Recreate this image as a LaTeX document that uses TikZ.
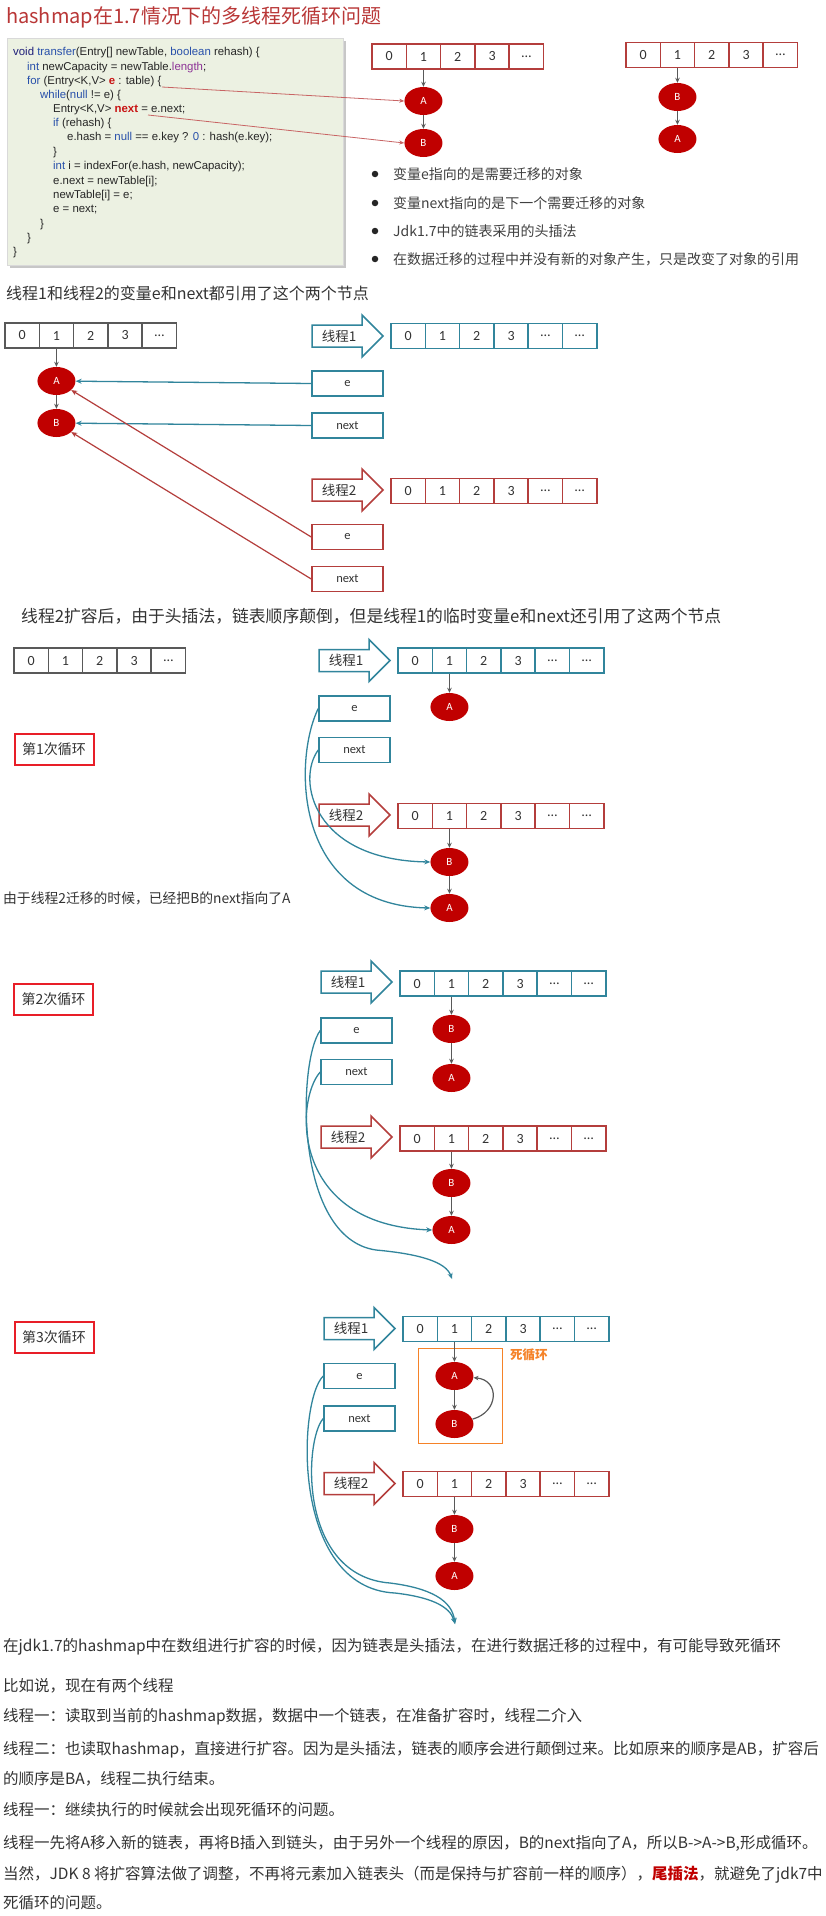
\documentclass[tikz,border=0pt]{standalone}
\usepackage{fontspec}
\setmainfont{Noto Sans CJK SC}
\newfontfamily\carl{Carlito}
\newfontfamily\ari{Liberation Sans}
\usetikzlibrary{shapes.geometric,arrows.meta}
\definecolor{teal1}{RGB}{49,133,156}
\definecolor{tred}{RGB}{180,62,60}
\definecolor{garr}{RGB}{89,89,89}
\definecolor{nred}{RGB}{192,0,0}
\definecolor{boxred}{RGB}{232,30,40}
\definecolor{orng}{RGB}{245,130,40}
\definecolor{codebg}{RGB}{236,241,226}
\definecolor{titred}{RGB}{185,55,55}
\definecolor{txt}{RGB}{64,64,64}
\definecolor{lred}{RGB}{200,100,100}
\definecolor{kwb}{RGB}{40,80,170}
\definecolor{kwv}{RGB}{30,30,120}
\definecolor{kwp}{RGB}{140,50,150}
\definecolor{kwr}{RGB}{200,20,20}
\newcommand\kb[1]{\textcolor{kwb}{#1}}
\newcommand\kv[1]{\textcolor{kwv}{#1}}
\newcommand\kp[1]{\textcolor{kwp}{#1}}
\newcommand\kr[1]{\textcolor{kwr}{\bfseries #1}}
\newcommand\cellrow[5]{%
  \foreach \t [count=\i from 0] in {#5}{%
    \node[#4] (#1\i) at ({#2+17.15+34.3*\i},#3) {\t};
  }%
}
\newcommand\thr[5]{%
  \draw[draw=#4, line width=1.5pt, fill=white, line join=miter]
    (#2,#3-11) -- (#2+50,#3-11) -- (#2+50,#3-21) -- (#2+71,#3) --
    (#2+50,#3+21) -- (#2+50,#3+11) -- (#2,#3+11) -- cycle;
  \node[thlbl] (#1) at (#2+27,#3) {#5};
}
\begin{document}
\begin{tikzpicture}[x=1pt,y=-1pt,
  cellbase/.style={line width=1.5pt, minimum width=34.3pt, minimum height=25pt, inner sep=0pt,
     font=\carl\fontsize{14}{14}\selectfont, text=black!80},
  cellg/.style={cellbase, draw=garr},
  cellr/.style={cellbase, draw=tred},
  cellt/.style={cellbase, draw=teal1},
  ent/.style={ellipse, fill=nred, minimum width=38pt, minimum height=28pt, inner sep=0pt,
     text=white, font=\carl\fontsize{11}{11}\selectfont},
  vbox/.style={draw, line width=1.5pt, minimum width=71pt, minimum height=25pt, inner sep=0pt,
     fill=white, font=\carl\fontsize{12.5}{12.5}\selectfont, text=black!80},
  vboxt/.style={vbox, draw=teal1},
  vboxr/.style={vbox, draw=tred},
  thlbl/.style={inner sep=0pt, font=\fontsize{13.5}{13.5}\selectfont, text=black!80},
  loopbox/.style={draw=boxred, line width=2pt, minimum width=79pt, minimum height=31pt, inner sep=0pt,
     font=\fontsize{14}{14}\selectfont, text=black!80},
  garrow/.style={draw=garr, line width=1.2pt, -{Stealth[length=5pt,width=4.5pt]}},
  tline/.style={draw=teal1, line width=1.3pt, -{Stealth[length=6pt,width=5pt]}},
  rline/.style={draw=tred, line width=1.2pt, -{Stealth[length=6pt,width=5pt]}},
  cline/.style={draw=lred, line width=0.8pt, -{Stealth[length=5pt,width=4pt]}},
  code/.style={anchor=west, inner sep=0pt, font=\ari\fontsize{11.4}{12}\selectfont, text=black!85},
  bul/.style={anchor=west, inner sep=0pt, font=\fontsize{14}{14}\selectfont, text=txt},
  dot/.style={circle, fill=black!85, inner sep=0pt, minimum size=6.5pt},
  para/.style={anchor=west, inner sep=0pt, font=\fontsize{15.5}{16}\selectfont, text=black!80},
  head/.style={anchor=west, inner sep=0pt, text=black!80}
]
\useasboundingbox (0,0) rectangle (826,1916);
\fill[white] (0,0) rectangle (826,1916);

% ---------- Title ----------
\node[anchor=west, inner sep=0pt, font=\fontsize{20}{22}\selectfont, text=titred] (title) at (6,17)
  {hashmap在1.7情况下的多线程死循环问题};

% ---------- Code box ----------
\fill[black!22] (10,41) rectangle (346,268);
\fill[codebg, draw=black!15] (7,38) rectangle (343,265);
\node[code] (c1) at (13,53) {\kv{void} \kb{transfer}(Entry[] newTable, \kb{boolean} rehash) \{};
\node[code] (c2) at (27,68) {\kb{int} newCapacity = newTable.\kp{length};};
\node[code] (c3) at (27,82) {\kb{for} (Entry<K,V> \kr{e} : table) \{};
\node[code] (c4) at (40,96) {\kb{while}(\kb{null} != e) \{};
\node[code] (c5) at (53,110) {Entry<K,V> \kr{next} = e.next;};
\node[code] (c6) at (53,124) {\kb{if} (rehash) \{};
\node[code] (c7) at (67,138) {e.hash = \kb{null} == e.key ? \kb{0} : hash(e.key);};
\node[code] (c8) at (53,153) {\}};
\node[code] (c9) at (53,167) {\kb{int} i = indexFor(e.hash, newCapacity);};
\node[code] (c10) at (53,182) {e.next = newTable[i];};
\node[code] (c11) at (53,196) {newTable[i] = e;};
\node[code] (c12) at (53,210) {e = next;};
\node[code] (c13) at (40,225) {\}};
\node[code] (c14) at (27,239) {\}};
\node[code] (c15) at (13,253) {\}};

% ---------- Section 1 arrays ----------
\cellrow{aa}{372}{56.5}{cellr}{0,1,2,3,…}
\node[ent] (s1A) at (423.45,101) {A};
\node[ent] (s1B) at (423.45,143) {B};
\draw[garrow] (aa1.south) -- (s1A.north);
\draw[garrow] (s1A.south) -- (s1B.north);
\cellrow{ab}{626}{55}{cellr}{0,1,2,3,…}
\node[ent] (s1B2) at (677.45,97) {B};
\node[ent] (s1A2) at (677.45,139) {A};
\draw[garrow] (ab1.south) -- (s1B2.north);
\draw[garrow] (s1B2.south) -- (s1A2.north);
\coordinate (ce) at (162,87);
\coordinate (cn) at (148,115);
\draw[cline] (ce) -- (s1A.west);
\draw[cline] (cn) -- (s1B.west);

% bullets
\node[dot] (d1) at (375,174) {};
\node[bul] (b1) at (393,174) {变量e指向的是需要迁移的对象};
\node[dot] (d2) at (375,203) {};
\node[bul] (b2) at (393,203) {变量next指向的是下一个需要迁移的对象};
\node[dot] (d3) at (375,231) {};
\node[bul] (b3) at (393,231) {Jdk1.7中的链表采用的头插法};
\node[dot] (d4) at (375,259) {};
\node[bul] (b4) at (393,259) {在数据迁移的过程中并没有新的对象产生，只是改变了对象的引用};

% ---------- Section 2 ----------
\node[head, font=\fontsize{16}{16}\selectfont] (h2) at (6,293) {线程1和线程2的变量e和next都引用了这个两个节点};
\cellrow{ba}{5}{335.5}{cellg}{0,1,2,3,…}
\node[ent] (s2A) at (56.45,381) {A};
\node[ent] (s2B) at (56.45,423) {B};
\draw[garrow] (ba1.south) -- (s2A.north);
\draw[garrow] (s2A.south) -- (s2B.north);
\thr{s2t1}{312}{336}{teal1}{线程1}
\cellrow{bb}{391}{336}{cellt}{0,1,2,3,…,…}
\node[vboxt] (s2e1) at (347.5,383.5) {e};
\node[vboxt] (s2n1) at (347.5,425.5) {next};
\thr{s2t2}{312}{490}{tred}{线程2}
\cellrow{bc}{391}{491}{cellr}{0,1,2,3,…,…}
\node[vboxr] (s2e2) at (347.5,537) {e};
\node[vboxr] (s2n2) at (347.5,579) {next};
\draw[tline] (s2e1.west) -- (s2A);
\draw[tline] (s2n1.west) -- (s2B);
\draw[rline] (s2e2.west) -- (s2A);
\draw[rline] (s2n2.west) -- (s2B);

% ---------- Section 3 ----------
\node[head, font=\fontsize{16.8}{17}\selectfont] (h3) at (21,616) {线程2扩容后，由于头插法，链表顺序颠倒，但是线程1的临时变量e和next还引用了这两个节点};
\cellrow{ca}{14}{660.5}{cellg}{0,1,2,3,…}
\thr{s3t1}{319}{660.5}{teal1}{线程1}
\cellrow{cb}{398}{660.5}{cellt}{0,1,2,3,…,…}
\node[ent] (s3A1) at (449.45,707) {A};
\draw[garrow] (cb1.south) -- (s3A1.north);
\node[vboxt] (s3e) at (354.5,708.5) {e};
\node[vboxt] (s3n) at (354.5,750) {next};
\node[loopbox] (L1) at (54,749) {第1次循环};
\thr{s3t2}{319}{815}{tred}{线程2}
\cellrow{cc}{398}{816}{cellr}{0,1,2,3,…,…}
\node[ent] (s3B2) at (449.45,862) {B};
\node[ent] (s3A2) at (449.45,908) {A};
\draw[garrow] (cc1.south) -- (s3B2.north);
\draw[garrow] (s3B2.south) -- (s3A2.north);
\node[anchor=west, inner sep=0pt, font=\fontsize{13.8}{14}\selectfont, text=black!80] (t3) at (3,898) {由于线程2迁移的时候，已经把B的next指向了A};
\draw[tline] (s3e.west) .. controls (293,760) and (293,905) .. (s3A2.west);
\draw[tline] (s3n.west) .. controls (296,780) and (313,860) .. (s3B2.west);

% ---------- Section 4 ----------
\node[loopbox] (L2) at (53.5,999.5) {第2次循环};
\thr{s4t1}{321}{982}{teal1}{线程1}
\cellrow{da}{400}{983.5}{cellt}{0,1,2,3,…,…}
\node[ent] (s4B1) at (451.45,1029) {B};
\node[ent] (s4A1) at (451.45,1078) {A};
\draw[garrow] (da1.south) -- (s4B1.north);
\draw[garrow] (s4B1.south) -- (s4A1.north);
\node[vboxt] (s4e) at (356.5,1030.5) {e};
\node[vboxt] (s4n) at (356.5,1072) {next};
\thr{s4t2}{321}{1137}{tred}{线程2}
\cellrow{db}{400}{1138.5}{cellr}{0,1,2,3,…,…}
\node[ent] (s4B2) at (451.45,1183) {B};
\node[ent] (s4A2) at (451.45,1230) {A};
\draw[garrow] (db1.south) -- (s4B2.north);
\draw[garrow] (s4B2.south) -- (s4A2.north);
\coordinate (s4end) at (452,1279);
\draw[tline] (s4n.west) .. controls (295,1100) and (290,1225) .. (s4A2.west);
\draw[tline] (s4e.west) .. controls (298,1060) and (293,1238) .. (376,1250)
   .. controls (420,1254) and (446,1262) .. (s4end);

% ---------- Section 5 ----------
\node[loopbox] (L3) at (54,1337.5) {第3次循环};
\thr{s5t1}{324}{1328.5}{teal1}{线程1}
\cellrow{ea}{403}{1329}{cellt}{0,1,2,3,…,…}
\draw[orng, line width=1pt] (418,1348) rectangle (502,1443);
\node[anchor=west, inner sep=0pt, font=\bfseries\fontsize{12.5}{13}\selectfont, text=orng] (dl) at (510,1355) {死循环};
\node[ent] (s5A1) at (454.45,1376) {A};
\node[ent] (s5B1) at (454.45,1424) {B};
\draw[garrow] (ea1.south) -- (s5A1.north);
\draw[garrow] (s5A1.south) -- (s5B1.north);
\draw[garrow] (s5B1) .. controls (499,1412) and (500,1380) .. (s5A1);
\node[vboxt] (s5e) at (359.5,1376) {e};
\node[vboxt] (s5n) at (359.5,1418.5) {next};
\thr{s5t2}{324}{1483.5}{tred}{线程2}
\cellrow{eb}{403}{1484}{cellr}{0,1,2,3,…,…}
\node[ent] (s5B2) at (454.45,1529) {B};
\node[ent] (s5A2) at (454.45,1576) {A};
\draw[garrow] (eb1.south) -- (s5B2.north);
\draw[garrow] (s5B2.south) -- (s5A2.north);
\coordinate (s5end) at (455,1624);
\draw[tline] (s5e.west) .. controls (298,1400) and (290,1588) .. (395,1593)
   .. controls (430,1597) and (450,1606) .. (s5end);
\draw[tline] (s5n.west) .. controls (304,1440) and (298,1576) .. (390,1583)
   .. controls (430,1588) and (452,1600) .. (s5end);

% ---------- Bottom text ----------
\node[para] (p1) at (3,1647) {在jdk1.7的hashmap中在数组进行扩容的时候，因为链表是头插法，在进行数据迁移的过程中，有可能导致死循环};
\node[para] (p2) at (3,1686) {比如说，现在有两个线程};
\node[para] (p3) at (3,1717) {线程一：读取到当前的hashmap数据，数据中一个链表，在准备扩容时，线程二介入};
\node[para] (p4) at (3,1750) {线程二：也读取hashmap，直接进行扩容。因为是头插法，链表的顺序会进行颠倒过来。比如原来的顺序是AB，扩容后};
\node[para] (p5) at (3,1779) {的顺序是BA，线程二执行结束。};
\node[para] (p6) at (3,1810) {线程一：继续执行的时候就会出现死循环的问题。};
\node[para] (p7) at (3,1843) {线程一先将A移入新的链表，再将B插入到链头，由于另外一个线程的原因，B的next指向了A，所以B->A->B,形成循环。};
\node[para] (p8) at (3,1875) {当然，JDK 8 将扩容算法做了调整，不再将元素加入链表头（而是保持与扩容前一样的顺序），\textcolor{nred}{\bfseries 尾插法}，就避免了jdk7中};
\node[para] (p9) at (3,1903) {死循环的问题。};
\end{tikzpicture}
\end{document}
